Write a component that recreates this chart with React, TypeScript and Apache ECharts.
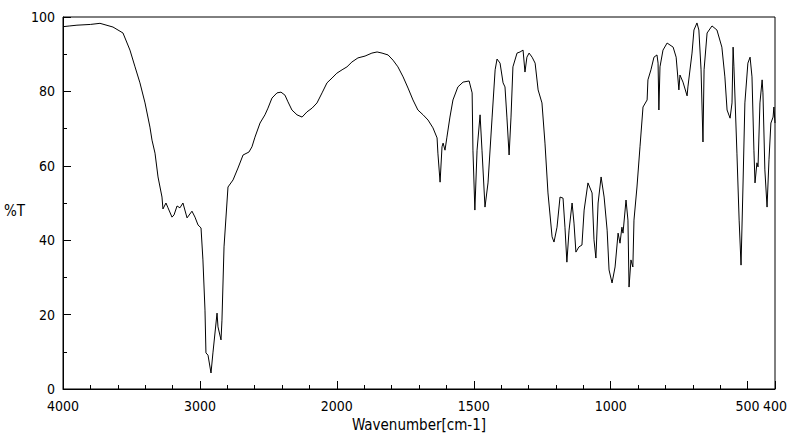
import React, { useEffect, useRef } from "react";
import * as echarts from "echarts";

// Wavenumber (cm-1) and transmittance (%T)
const wavenumbers = [
  4000, 3950, 3898, 3800, 3730, 3635, 3562, 3511, 3474, 3438, 3401, 3365, 3350, 3328, 3306, 3277, 3270,
  3248, 3233, 3204, 3189, 3167, 3146, 3124, 3094, 3058, 3036, 3014, 2992, 2978, 2963, 2956,
  2941, 2919, 2905, 2875, 2868, 2846, 2839, 2824, 2795, 2758, 2722, 2685, 2642, 2620,
  2598, 2561, 2525, 2503, 2474, 2437, 2408, 2379, 2357, 2328, 2291, 2254, 2218, 2181, 2145,
  2108, 2072, 2035, 2000, 1981, 1963, 1945, 1923, 1897, 1872, 1853, 1835, 1813, 1795, 1777,
  1758, 1740, 1722, 1704, 1685, 1667, 1649, 1634, 1631, 1623, 1616, 1612, 1605,
  1598, 1587, 1576, 1558, 1539, 1517, 1506, 1503, 1496, 1488, 1477, 1470, 1459, 1448, 1433,
  1422, 1415, 1404, 1393, 1386, 1379, 1371, 1364, 1357, 1342, 1331, 1320, 1313, 1306, 1298,
  1287, 1276, 1265, 1251, 1240, 1229, 1214, 1207, 1196, 1185, 1174, 1167, 1160, 1152, 1141,
  1134, 1127, 1116, 1105, 1097, 1083, 1068, 1061, 1054, 1046, 1035, 1024, 1013, 1006, 995,
  984, 973, 966, 959, 955, 944, 937, 933, 926, 919, 915, 904, 893, 882, 867,
  864, 853, 842, 831, 827, 824, 820, 809, 794, 772, 761, 751, 747, 736, 721,
  718, 703, 696, 685, 678, 670, 663, 659, 648, 630, 612, 594, 583, 575, 564,
  557, 553, 550, 539, 531, 524, 517, 510, 499, 491, 484, 477, 473, 466, 462,
  455, 447, 444, 437, 429, 422, 415, 407, 404, 400,
];
const transmittance = [
  97.4, 97.6, 97.8, 98.0, 98.3, 97.3, 95.7, 91.1, 86.6, 82.3, 76.9, 70.4, 66.9, 63.4, 57.0, 51.6, 48.4,
  50.0, 48.7, 46.2, 46.8, 49.2, 48.7, 50.0, 46.0, 47.8, 46.2, 44.1, 43.3, 34.7, 21.2, 9.7,
  9.1, 4.3, 9.7, 20.4, 16.7, 13.2, 18.5, 38.2, 54.3, 56.2, 59.4, 62.9, 63.7, 65.1,
  67.7, 71.5, 73.7, 75.5, 78.2, 79.6, 79.8, 79.0, 77.2, 75.0, 73.7, 73.1, 74.5, 75.5, 76.9,
  79.6, 82.3, 83.6, 84.9, 85.8, 86.6, 87.9, 89.0, 89.5, 90.3, 90.6, 90.3, 89.8, 88.4, 86.6,
  83.9, 80.9, 77.7, 75.0, 73.7, 72.3, 70.2, 67.5, 63.4, 55.6, 65.1, 66.1, 64.2,
  67.7, 73.1, 77.7, 81.2, 82.5, 82.8, 79.6, 64.2, 48.1, 64.2, 73.7, 64.2, 48.9, 55.4, 73.1,
  85.8, 88.7, 87.6, 82.3, 81.2, 73.1, 62.9, 73.1, 86.6, 90.3, 90.6, 91.1, 85.2, 89.2, 90.3,
  89.2, 87.6, 80.4, 76.9, 66.1, 52.7, 40.9, 39.5, 43.5, 51.6, 51.3, 43.5, 34.1, 42.7, 50.0,
  44.6, 36.8, 38.2, 38.7, 48.1, 55.4, 52.7, 40.1, 35.2, 50.0, 57.0, 51.6, 42.7, 32.0, 28.5,
  32.8, 41.9, 39.2, 43.5, 41.9, 50.8, 45.4, 27.4, 34.7, 32.8, 45.4, 54.3, 65.1, 75.8, 77.7,
  83.1, 85.8, 89.2, 89.8, 87.6, 75.0, 86.6, 91.1, 93.0, 91.9, 89.2, 80.4, 84.4, 82.5, 78.8,
  81.2, 90.3, 96.5, 98.4, 96.5, 85.8, 66.4, 85.8, 95.7, 97.6, 96.5, 91.9, 83.9, 75.0, 72.8,
  76.9, 91.9, 86.6, 63.4, 45.4, 33.3, 54.3, 76.9, 87.6, 89.2, 83.9, 64.2, 55.4, 60.8, 59.7,
  76.9, 83.1, 79.6, 58.9, 48.9, 61.6, 71.5, 73.1, 75.8, 71.5,
];

// Axis scale change at 2000 cm-1: below 2000 the scale is doubled
const SCALE_BREAK = 2000;
const toAxis = (w: number) => (w >= SCALE_BREAK ? 4000 - w : SCALE_BREAK + (SCALE_BREAK - w) * 2);
const fromAxis = (v: number) => (v <= SCALE_BREAK ? 4000 - v : SCALE_BREAK - (v - SCALE_BREAK) / 2);

const FONT = '"Liberation Sans Narrow", "DejaVu Sans Condensed", "Liberation Sans", sans-serif';
const TICK_FS = 14;
const NAME_FS = 15;

export default function App() {
  const ref = useRef<HTMLDivElement>(null);
  useEffect(() => {
    document.body.style.margin = "0";
    const chart = echarts.init(ref.current!, undefined, { renderer: "svg" });
    const data = wavenumbers.map((w, i) => [toAxis(w), transmittance[i]]);
    chart.setOption({
      animation: false,
      backgroundColor: "#ffffff",
      textStyle: { fontFamily: FONT },
      grid: {
        left: 63,
        right: 24,
        top: 17,
        bottom: 50,
        outerBoundsMode: "none",
        containLabel: false,
        show: true,
        borderColor: "#000",
        borderWidth: 1,
        backgroundColor: "transparent",
      },
      xAxis: [
        {
          type: "value",
          min: 0,
          max: toAxis(400),
          interval: 1000,
          name: "Wavenumber[cm-1]",
          nameLocation: "middle",
          nameGap: 28,
          nameTextStyle: { color: "#000", fontSize: NAME_FS, fontFamily: FONT },
          axisLine: { show: true, lineStyle: { color: "#000", width: 1 } },
          axisTick: { show: true, inside: true, length: 8, lineStyle: { color: "#000" } },
          minorTick: { show: true, splitNumber: 5, length: 4, lineStyle: { color: "#000" } },
          splitLine: { show: false },
          minorSplitLine: { show: false },
          axisLabel: {
            color: "#000",
            fontSize: TICK_FS,
            fontFamily: FONT,
            margin: 10,
            showMaxLabel: false,
            formatter: (v: number) => String(Math.round(fromAxis(v))),
          },
        },
        {
          type: "value",
          min: 0,
          max: toAxis(400),
          interval: toAxis(400),
          position: "bottom",
          axisLine: { show: false },
          axisTick: { show: false },
          splitLine: { show: false },
          axisLabel: {
            color: "#000",
            fontSize: TICK_FS,
            fontFamily: FONT,
            margin: 10,
            formatter: (v: number) => (v === 0 ? "" : String(Math.round(fromAxis(v)))),
          },
        },
      ],
      yAxis: {
        type: "value",
        min: 0,
        max: 100,
        interval: 20,
        name: "%T",
        nameLocation: "middle",
        nameRotate: 0,
        nameGap: 33,
        nameTextStyle: { color: "#000", fontSize: NAME_FS, fontFamily: FONT, verticalAlign: "top" },
        axisLine: { show: true, lineStyle: { color: "#000", width: 1 } },
        axisTick: { show: true, inside: true, length: 8, lineStyle: { color: "#000" } },
        minorTick: { show: true, splitNumber: 2, length: 4, lineStyle: { color: "#000" } },
        splitLine: { show: false },
        axisLabel: { color: "#000", fontSize: TICK_FS, fontFamily: FONT, margin: 8 },
      },
      series: [
        {
          type: "line",
          data,
          showSymbol: false,
          symbol: "none",
          lineStyle: { color: "#000", width: 1 },
          silent: true,
        },
      ],
    });
    return () => chart.dispose();
  }, []);
  return (
    <div
      ref={ref}
      style={{ position: "absolute", left: 0, top: 0, width: 799, height: 439, background: "#fff" }}
    />
  );
}
